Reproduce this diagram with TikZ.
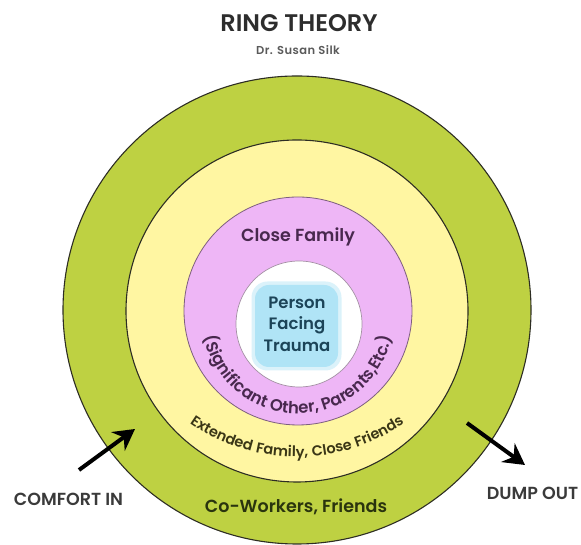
\documentclass[tikz,border=0pt]{standalone}
\usepackage{fontspec}
\setmainfont{Poppins}
\newfontfamily\popsb{Poppins SemiBold}
\newfontfamily\popsbwide{Poppins SemiBold}[LetterSpace=4]
\usetikzlibrary{decorations.text,arrows.meta}

\definecolor{ringgreen}{RGB}{190,209,66}
\definecolor{ringyellow}{RGB}{255,246,162}
\definecolor{ringpink}{RGB}{238,182,246}
\definecolor{coreblue}{RGB}{176,228,246}
\definecolor{ringline}{RGB}{45,45,35}
\definecolor{pinkline}{RGB}{125,95,125}
\definecolor{titlecol}{RGB}{45,45,45}
\definecolor{subcol}{RGB}{90,90,90}
\definecolor{famcol}{RGB}{72,40,78}
\definecolor{corecol}{RGB}{28,68,88}
\definecolor{extcol}{RGB}{58,54,22}
\definecolor{cowcol}{RGB}{42,52,14}
\definecolor{labelcol}{RGB}{58,58,58}

\newcommand\sigfont{\popsb\fontsize{16.5}{17}\selectfont}
\newcommand\extfont{\popsbwide\fontsize{14.5}{15}\selectfont}

\begin{document}
\begin{tikzpicture}[x=1pt,y=1pt,
  ringnode/.style={circle, inner sep=0pt, draw=ringline, line width=1.1pt},
  lbl/.style={inner sep=0pt, font=\popsb\fontsize{17.5}{18}\selectfont, text=labelcol},
  bigarrow/.style={line width=4pt, -{Stealth[length=21pt,width=23pt,inset=7pt]}}
]
\useasboundingbox (0,0) rectangle (581,545);

% concentric rings
\node[ringnode, fill=ringgreen, minimum size=468pt] (outer) at (297,235) {};
\node[ringnode, fill=ringyellow, minimum size=342pt] (yellow) at (297,234) {};
\node[ringnode, fill=ringpink, draw=pinkline, line width=0.8pt, minimum size=228pt] (pink) at (298,234) {};
\node[circle, inner sep=0pt, fill=white, draw=pinkline!70, line width=0.7pt, minimum size=126pt] (core) at (299,221) {};

% soft blue patch behind the centre words
\node[rounded corners=16pt, fill=coreblue, opacity=0.45, minimum width=90pt, minimum height=89pt] (blobhalo) at (296.5,219) {};
\node[rounded corners=14pt, fill=coreblue, minimum width=83pt, minimum height=82pt] (blob) at (296.5,219) {};
\node[align=center, inner sep=0pt, text=corecol, font=\popsb\fontsize{16.5}{21.5}\selectfont] (person) at (297,221) {Person\\Facing\\Trauma};

% titles
\node[inner sep=0pt, text=titlecol, font=\popsb\fontsize{24}{25}\selectfont] (title) at (299,521.5) {RING THEORY};
\node[inner sep=0pt, text=subcol, font=\popsbwide\fontsize{11.5}{12}\selectfont] (author) at (298,495) {Dr. Susan Silk};

% ring labels
\node[inner sep=0pt, text=famcol, font=\popsb\fontsize{17.5}{18}\selectfont] (closefam) at (298,308) {Close Family};
\node[inner sep=0pt, text=cowcol, font=\popsb\fontsize{17.5}{18}\selectfont] (cowork) at (296,38) {Co-Workers, Friends};

\path[decorate, decoration={text along path, text align=center, text color=famcol,
  text={|\sigfont|(Significant Other, Parents,Etc.)}}]
  (298,227) ++(180:95.5) arc (180:360:95.5);
\path[decorate, decoration={text along path, text align=center, text color=extcol,
  text={|\extfont|Extended Family, Close Friends}}]
  (297,275) ++(220:187) arc (220:320:187);

% side labels and arrows
\node[lbl] (comfort) at (68.5,46) {COMFORT IN};
\node[lbl] (dump) at (532.5,52) {DUMP OUT};
\coordinate (cinstart) at (79,75);
\coordinate (cinend) at (135,116);
\coordinate (doutstart) at (467,122);
\coordinate (doutend) at (525,80);
\draw[bigarrow] (cinstart) -- (cinend);
\draw[bigarrow] (doutstart) -- (doutend);
\end{tikzpicture}
\end{document}
